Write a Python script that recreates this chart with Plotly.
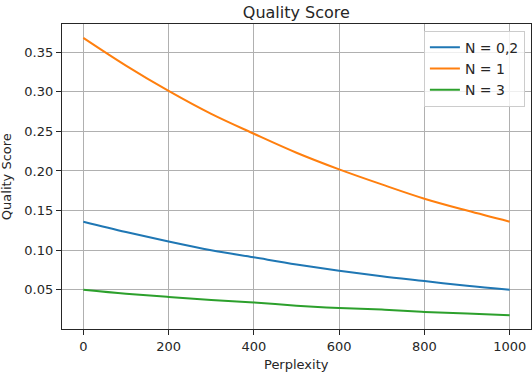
import plotly.graph_objects as go

perplexity = [0, 100, 200, 300, 400, 500, 600, 700, 800, 900, 1000]
n_02 = [0.136, 0.123, 0.111, 0.100, 0.091, 0.082, 0.074, 0.067, 0.061, 0.055, 0.050]
n_1 = [0.368, 0.333, 0.301, 0.272, 0.247, 0.223, 0.202, 0.183, 0.165, 0.150, 0.136]
n_3 = [0.050, 0.045, 0.041, 0.037, 0.034, 0.030, 0.027, 0.025, 0.022, 0.020, 0.018]
series_names = ["N = 0,2", "N = 1", "N = 3"]
colors = ["#1f77b4", "#ff7f0e", "#2ca02c"]
x_ticks = [0, 200, 400, 600, 800, 1000]
y_ticks = [0.05, 0.10, 0.15, 0.20, 0.25, 0.30, 0.35]

FONT = "DejaVu Sans"
fig = go.Figure()
for name, ys, c in zip(series_names, [n_02, n_1, n_3], colors):
    fig.add_trace(go.Scatter(x=perplexity, y=ys, mode="lines", name=name,
                             line=dict(color=c, width=2, shape="spline")))

axis_common = dict(showline=True, linecolor="#262626", linewidth=1.2, mirror=True,
                   showgrid=True, gridcolor="#b0b0b0", gridwidth=1,
                   ticks="outside", ticklen=5, tickcolor="#262626", tickwidth=1,
                   zeroline=False, tickfont=dict(family=FONT, size=13, color="#262626"))

fig.update_layout(
    width=532, height=372,
    margin=dict(l=62, r=1, t=24, b=43),
    paper_bgcolor="white", plot_bgcolor="white",
    font=dict(family=FONT, size=13, color="#262626"),
    title=dict(text="Quality Score", x=0.557, xanchor="center", y=0.968, yanchor="middle",
               font=dict(family=FONT, size=16, color="#262626")),
    xaxis=dict(range=[-50, 1050], tickvals=x_ticks, ticktext=[str(v) for v in x_ticks], **axis_common),
    yaxis=dict(range=[0.0005, 0.3855], tickvals=y_ticks, ticktext=["%.2f" % v for v in y_ticks], **axis_common),
    legend=dict(x=0.987, xanchor="right", y=0.978, yanchor="top",
                bgcolor="rgba(255,255,255,0.8)", bordercolor="#cccccc", borderwidth=1,
                tracegroupgap=0, font=dict(family=FONT, size=14, color="#262626")),
    showlegend=True,
)
fig.add_annotation(text="Perplexity", xref="paper", yref="paper", x=0.5, y=-0.115,
                   xanchor="center", yanchor="middle", showarrow=False,
                   font=dict(family=FONT, size=13, color="#262626"))
fig.add_annotation(text="Quality Score", xref="paper", yref="paper", x=-0.118, y=0.5,
                   xanchor="center", yanchor="middle", showarrow=False, textangle=-90,
                   font=dict(family=FONT, size=13, color="#262626"))
fig.write_html("out.html", config={"displayModeBar": False},
               post_script="document.body.style.margin='0';document.body.style.padding='0';")
